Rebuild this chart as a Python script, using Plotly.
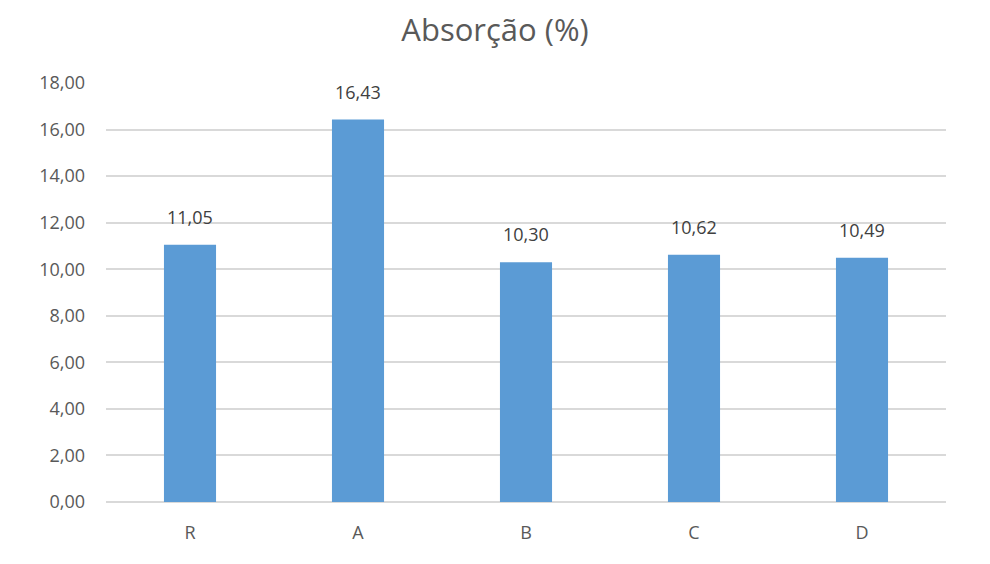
import plotly.graph_objects as go

categories = ["R", "A", "B", "C", "D"]
values = [11.05, 16.43, 10.30, 10.62, 10.49]
y_ticks = [0, 2, 4, 6, 8, 10, 12, 14, 16, 18]

font_family = "Open Sans, Noto Sans, sans-serif"

fig = go.Figure(go.Bar(
    x=categories,
    y=values,
    marker=dict(color="#5B9BD5", line=dict(width=0)),
    width=0.31,
    cliponaxis=False,
))

for c, v in zip(categories, values):
    fig.add_annotation(x=c, y=v, text=f"{v:.2f}".replace(".", ","),
                       showarrow=False, yanchor="bottom", yshift=14,
                       font=dict(size=18, color="#404040", family=font_family))

fig.update_layout(
    width=990, height=564,
    margin=dict(l=106, r=44, t=83, b=62),
    paper_bgcolor="white",
    plot_bgcolor="white",
    separators=",.",
    title=dict(text="Absorção (%)", x=0.5, xanchor="center", y=0.947, yanchor="middle",
               font=dict(size=31, color="#595959", family=font_family)),
    showlegend=False,
    xaxis=dict(showgrid=False, showline=False, ticks="", ticklabelstandoff=18,
               tickfont=dict(size=18, color="#595959", family=font_family)),
    yaxis=dict(range=[0, 18], tickvals=y_ticks, tickformat=".2f",
               showgrid=True, gridcolor="#D9D9D9", gridwidth=1.5,
               zeroline=True, zerolinecolor="#D9D9D9", zerolinewidth=1.5,
               showline=False, ticks="", ticklabelstandoff=20,
               tickfont=dict(size=18, color="#595959", family=font_family)),
)

fig.write_html("out.html")
